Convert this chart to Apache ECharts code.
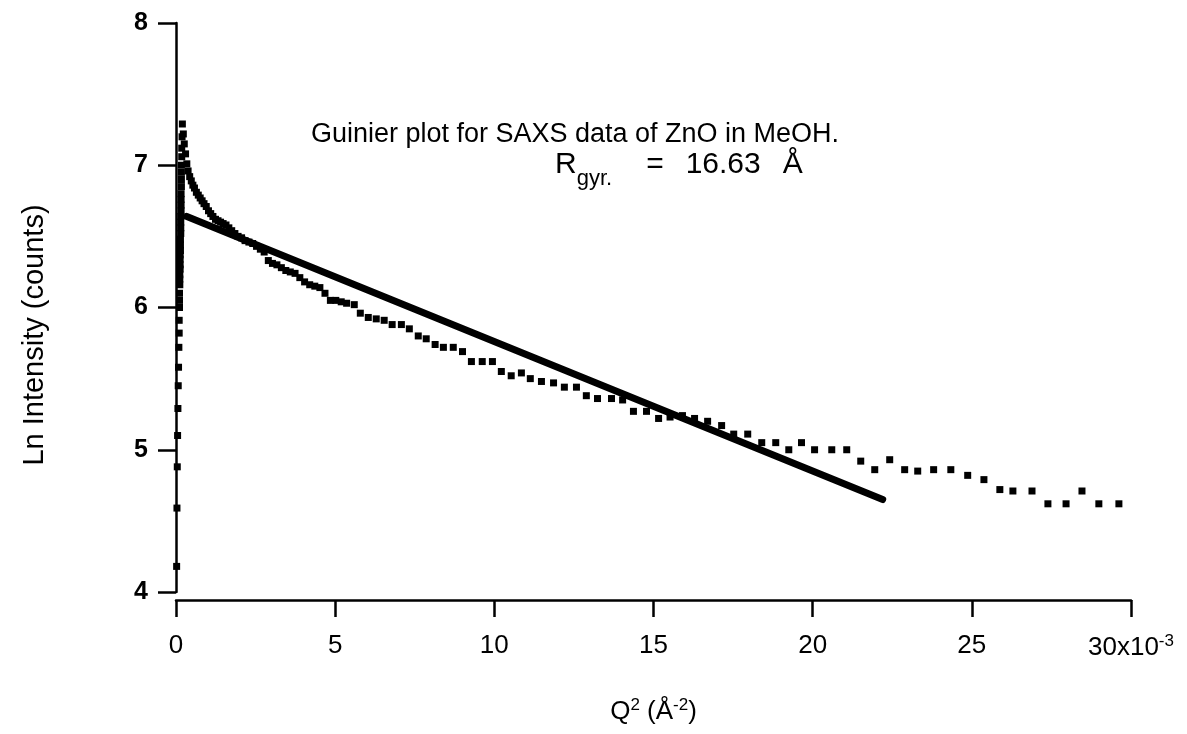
<!DOCTYPE html>
<html>
<head>
<meta charset="utf-8">
<script src="https://cdn.jsdelivr.net/npm/echarts@6/dist/echarts.min.js"></script>
<style>
html,body{margin:0;padding:0;background:#fff;}
#chart{width:1187px;height:734px;}
</style>
</head>
<body>
<div id="chart"></div>
<script>
// Q^2 values (x10^-3 A^-2) of the measured SAXS points
const qSquared = [
  0.02,0.03,0.04,0.05,0.06,0.07,0.08,0.09,0.10,0.10,0.11,0.11,0.11,0.12,0.12,0.12,0.13,0.13,0.13,0.13,0.14,0.14,0.14,
  0.15,0.15,0.15,0.15,0.16,0.16,0.16,0.16,0.17,0.17,0.17,0.17,0.18,0.18,0.19,
  0.20,0.23,0.26,0.30,0.34,0.38,0.43,0.48,0.53,0.58,0.64,0.70,0.76,0.82,0.88,0.95,1.02,1.09,1.16,1.24,1.32,1.40,
  1.48,1.57,1.66,1.75,1.85,1.95,2.06,2.17,2.29,2.41,2.53,2.65,2.77,2.90,3.03,3.17,3.31,3.45,3.59,3.74,3.89,
  4.04,4.20,4.36,4.52,4.68,4.85,5.02,5.19,5.36,
  5.60,5.79,6.04,6.29,6.54,6.79,7.08,7.33,7.61,7.86,8.14,8.40,8.71,9.00,9.28,9.62,9.94,
  10.22,10.53,10.85,11.13,11.48,11.86,12.20,12.58,12.89,13.24,13.68,14.03,14.37,14.78,15.16,15.52,15.91,
  16.29,16.70,17.14,17.52,17.96,18.40,18.84,19.25,19.65,20.06,20.60,21.07,21.51,21.95,22.42,22.89,
  23.30,23.80,24.34,24.87,25.38,25.88,26.29,26.89,27.39,27.96,28.46,28.99,29.62
];
// Ln intensity (counts) of the measured points
const lnIntensity = [
  4.18,4.59,4.88,5.10,5.29,5.45,5.58,5.72,5.82,5.91,6.00,6.05,6.10,6.16,6.20,6.23,6.27,6.30,6.34,6.37,6.40,6.44,6.48,
  6.52,6.56,6.60,6.64,6.68,6.72,6.76,6.80,6.85,6.90,6.95,7.00,7.06,7.12,7.20,
  7.29,7.22,7.15,7.08,7.01,6.96,6.92,6.89,6.86,6.84,6.81,6.79,6.77,6.75,6.73,6.71,6.68,6.66,6.64,6.62,6.61,6.60,
  6.59,6.58,6.56,6.54,6.52,6.50,6.49,6.47,6.46,6.45,6.43,6.41,6.39,6.33,6.31,6.30,6.28,6.26,6.25,6.24,6.21,
  6.18,6.16,6.15,6.14,6.10,6.05,6.05,6.04,6.03,
  6.02,5.96,5.93,5.92,5.91,5.88,5.88,5.85,5.80,5.78,5.74,5.72,5.72,5.69,5.62,5.62,5.62,
  5.55,5.52,5.54,5.50,5.48,5.47,5.44,5.44,5.38,5.36,5.36,5.35,5.27,5.27,5.22,5.23,5.24,
  5.22,5.20,5.17,5.11,5.11,5.05,5.05,5.00,5.05,5.00,5.00,5.00,4.92,4.86,4.93,4.86,
  4.85,4.86,4.86,4.82,4.79,4.72,4.71,4.71,4.62,4.62,4.71,4.62,4.62
];
// Guinier fit line end points
const fitQSquared = [0.34, 22.2];
const fitLnIntensity = [6.64, 4.65];

const xTicks = [0, 5, 10, 15, 20, 25, 30];
const yTicks = [4, 5, 6, 7, 8];

const titleLine1 = 'Guinier plot for SAXS data of ZnO in MeOH.';
const xTitle = '{n|Q}{s|2}{n| (Å}{s|-2}{n|)}';
const yTitle = 'Ln Intensity (counts)';

const points = qSquared.map((q, i) => [q, lnIntensity[i]]);
const fit = fitQSquared.map((q, i) => [q, fitLnIntensity[i]]);

const chart = echarts.init(document.getElementById('chart'));
const FONT = '"Liberation Sans", Arial, Helvetica, sans-serif';
chart.setOption({
  animation: false,
  backgroundColor: '#fff',
  grid: {left: 176, right: 56, top: 23, bottom: 142, containLabel: false},
  xAxis: {
    type: 'value', min: xTicks[0], max: xTicks[xTicks.length - 1], interval: 5,
    offset: 8,
    axisLine: {show: true, onZero: false, lineStyle: {color: '#000', width: 2.5}},
    axisTick: {show: true, length: 17, lineStyle: {color: '#000', width: 2.5}},
    splitLine: {show: false},
    axisLabel: {
      margin: 33, color: '#000', fontFamily: FONT, fontSize: 26,
      formatter: v => v === 30 ? '{n|30x10}{s|-3}' : String(v),
      rich: {
        n: {fontSize: 26, fontFamily: FONT, color: '#000', lineHeight: 30},
        s: {fontSize: 17, fontFamily: FONT, color: '#000', verticalAlign: 'top', lineHeight: 14}
      }
    },
    name: xTitle, nameLocation: 'middle', nameGap: 97,
    nameTextStyle: {
      fontFamily: FONT, fontSize: 26, color: '#000',
      rich: {
        n: {fontSize: 26, fontFamily: FONT, color: '#000', lineHeight: 30},
        s: {fontSize: 17, fontFamily: FONT, color: '#000', verticalAlign: 'top', lineHeight: 12}
      }
    }
  },
  yAxis: {
    type: 'value', min: yTicks[0], max: yTicks[yTicks.length - 1], interval: 1,
    axisLine: {show: true, onZero: false, lineStyle: {color: '#000', width: 2.5}},
    axisTick: {show: true, length: 18, lineStyle: {color: '#000', width: 2.5}},
    splitLine: {show: false},
    axisLabel: {margin: 28, color: '#000', fontFamily: FONT, fontSize: 25, fontWeight: 'bold'}
  },
  series: [
    {
      type: 'scatter', data: points, symbol: 'rect', symbolSize: 7,
      itemStyle: {color: '#000', opacity: 1}, z: 3
    },
    {
      type: 'line', data: fit, showSymbol: false, symbol: 'none',
      lineStyle: {color: '#000', width: 7, cap: 'round', opacity: 1}, z: 4
    }
  ],
  graphic: [
    {
      type: 'text', x: 575, y: 135,
      style: {text: titleLine1, fontFamily: FONT, fontSize: 27, fill: '#000', align: 'center', verticalAlign: 'middle'}
    },
    {
      type: 'text', left: 555, top: 150,
      style: {
        text: '{n|R}{b|gyr.}{e|=}{v|16.63}{a|Å}',
        fontFamily: FONT, fill: '#000',
        rich: {
          n: {fontSize: 30, fontFamily: FONT, color: '#000', lineHeight: 40, verticalAlign: 'top'},
          b: {fontSize: 22, fontFamily: FONT, color: '#000', lineHeight: 40, verticalAlign: 'bottom'},
          e: {fontSize: 30, fontFamily: FONT, color: '#000', lineHeight: 40, verticalAlign: 'top', padding: [0, 0, 0, 34]},
          v: {fontSize: 30, fontFamily: FONT, color: '#000', lineHeight: 40, verticalAlign: 'top', padding: [0, 0, 0, 22]},
          a: {fontSize: 30, fontFamily: FONT, color: '#000', lineHeight: 40, verticalAlign: 'top', padding: [0, 0, 0, 22]}
        }
      }
    },
    {
      type: 'text', x: 35, y: 335, rotation: Math.PI / 2,
      style: {text: yTitle, fontFamily: FONT, fontSize: 29, fill: '#000', align: 'center', verticalAlign: 'middle'}
    }
  ]
});
</script>
</body>
</html>
